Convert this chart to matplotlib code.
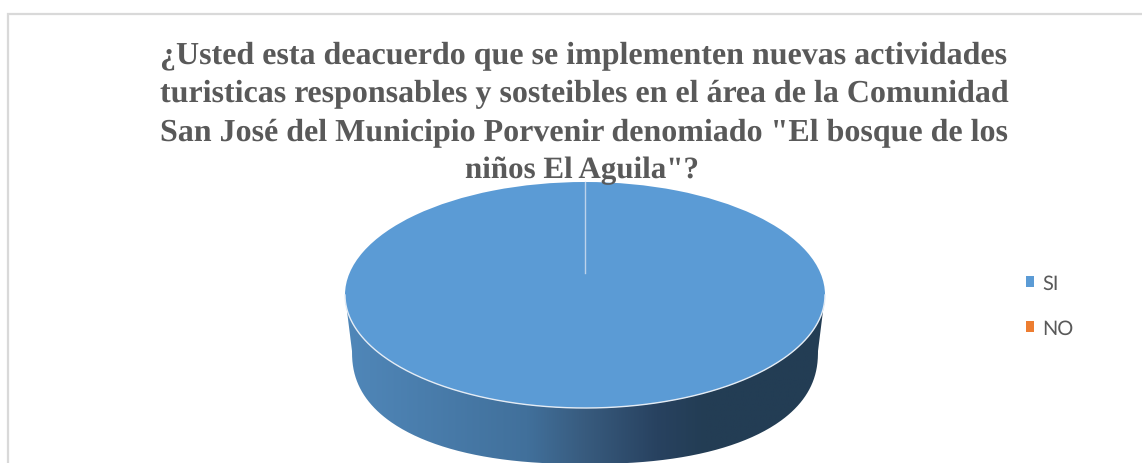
import numpy as np
import matplotlib
matplotlib.use("Agg")
import matplotlib.pyplot as plt
from matplotlib.colors import LinearSegmentedColormap
from matplotlib.patches import PathPatch
from matplotlib.path import Path

plt.rcParams["text.hinting"] = "no_hinting"
plt.rcParams["text.hinting_factor"] = 1

title_lines = [
    "¿Usted esta deacuerdo que se implementen nuevas actividades",
    "turisticas responsables y sosteibles en el área de la Comunidad",
    "San José del Municipio Porvenir denomiado \"El bosque de los",
    "niños El Aguila\"?",
]
categories = ["SI", "NO"]
values = [100, 0]
colors = ["#5B9BD5", "#ED7D31"]

W, H = 1142, 464
fig = plt.figure(figsize=(W / 100, H / 100), dpi=100, facecolor="white")

bg = fig.add_axes([0, 0, 1, 1], zorder=0)
bg.set_xlim(0, W)
bg.set_ylim(H, 0)
bg.axis("off")
# chart frame: only the top and left edges fall inside the crop
bg.plot([W, 8, 8], [14.5, 14.5, H], color="#D9D9D9", lw=1.6, solid_joinstyle="miter")

# side wall of the 3D pie
cx, top_cy, rx, ry = 585, 296, 240, 113
t = np.linspace(0, np.pi, 300)
upper = np.c_[cx + rx * np.cos(t), top_cy + ry * np.sin(t)]
lower_rx, lower_cy, n = 233, 352, 2.3
c, s = np.cos(t), np.sin(t)
lower = np.c_[cx + lower_rx * np.sign(c) * np.abs(c) ** (2 / n),
              lower_cy + ry * np.abs(s) ** (2 / n)]
wall = Path(np.r_[upper, lower[::-1], upper[:1]])
cmap = LinearSegmentedColormap.from_list(
    "wall",
    [(0, "#5087B9"), (0.38, "#41709B"), (0.5, "#385B7E"), (0.65, "#284260"), (0.75, "#233D54"), (1, "#233D54")],
)
im = bg.imshow(np.linspace(0, 1, 256)[None, :], cmap=cmap, aspect="auto",
               extent=(cx - rx, cx + rx, H, top_cy), zorder=1)
bg.set_xlim(0, W)
bg.set_ylim(H, 0)
clip = PathPatch(wall, transform=bg.transData, fc="none", ec="none")
bg.add_patch(clip)
im.set_clip_path(clip)

# top face: pie drawn in an axes covering the ellipse box
pie_ax = fig.add_axes([(cx - rx) / W, 1 - (top_cy + ry) / H, 2 * rx / W, 2 * ry / H], zorder=2)
wedges, _ = pie_ax.pie(values, colors=colors, startangle=90, counterclock=False, radius=1,
                       wedgeprops=dict(linewidth=0))
pie_ax.set_aspect("auto")
pie_ax.set_xlim(-1, 1)
pie_ax.set_ylim(-1, 1)
pie_ax.patch.set_alpha(0)

# rim highlight and slice seam
fg = fig.add_axes([0, 0, 1, 1], zorder=3)
fg.set_xlim(0, W)
fg.set_ylim(H, 0)
fg.axis("off")
fg.plot(upper[:, 0], upper[:, 1], color="#E4ECF5", lw=1.0)
fg.plot([cx, cx], [top_cy - ry, 274], color="#BCD3EB", lw=1.0)

title_y = [56, 94, 133, 171]
title_x = [584, 584, 584, 582]
title_size = [22.95, 22.95, 22.95, 22.5]
for line, x, y, size in zip(title_lines, title_x, title_y, title_size):
    fg.text(x, y, line, ha="center", va="center", family="Liberation Serif",
            weight="bold", fontsize=size, color="#595959")

leg = fg.legend(wedges, categories, loc="upper left", bbox_to_anchor=(1026 / W, 1 - 275 / H),
                bbox_transform=fig.transFigure, frameon=False,
                handlelength=0.41, handleheight=0.41, handletextpad=0.41, labelspacing=1.33,
                borderpad=0, borderaxespad=0, prop=dict(family="Lato", size=14.5))
for text in leg.get_texts():
    text.set_color("#595959")

fig.savefig("out.png", dpi=100)
